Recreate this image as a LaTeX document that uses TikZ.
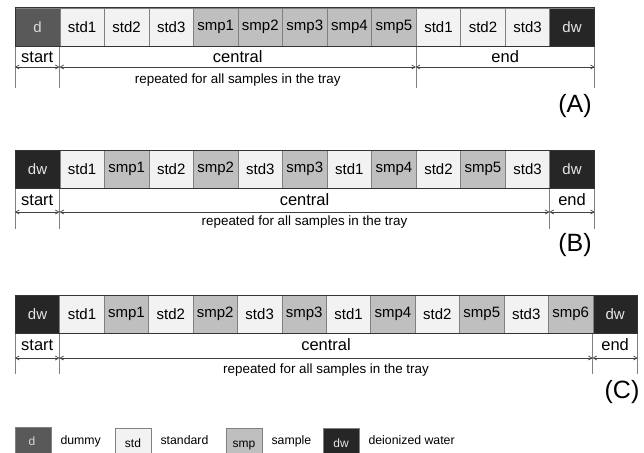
\documentclass[tikz,border=0pt]{standalone}
\usepackage{fontspec}
\setmainfont{Liberation Sans}
\usetikzlibrary{arrows.meta,calc}
\definecolor{cD}{HTML}{595959}
\definecolor{cStd}{HTML}{F2F2F2}
\definecolor{cSmp}{HTML}{BFBFBF}
\definecolor{cDw}{HTML}{262626}
\definecolor{cLine}{HTML}{808080}
\begin{document}
\begin{tikzpicture}[x=1pt,y=-1pt,
  cell/.style={draw=cLine, line width=0.6pt, minimum height=38pt, inner sep=0pt, anchor=north west, font=\fontsize{15}{15}\selectfont},
  cdummy/.style={cell, fill=cD, text=white!85!black},
  cstd/.style={cell, fill=cStd, text=black},
  csmp/.style={cell, fill=cSmp, text=black},
  cdw/.style={cell, fill=cDw, text=white!90!black},
  sep/.style={draw=cLine, line width=0.6pt},
  dim/.style={draw=black!75, line width=0.7pt, {Straight Barb[length=3.5pt,width=4pt]}-{Straight Barb[length=3.5pt,width=4pt]}},
  seglab/.style={font=\fontsize{16.5}{16.5}\selectfont, anchor=base},
  replab/.style={font=\fontsize{13.4}{13.4}\selectfont, anchor=base},
  panlab/.style={font=\fontsize{25}{25}\selectfont, anchor=base},
  legbox/.style={draw=cLine, line width=0.6pt, minimum width=36pt, minimum height=30pt, inner sep=0pt, anchor=north west, font=\fontsize{12}{12}\selectfont},
  legtxt/.style={font=\fontsize{12.3}{12.3}\selectfont, anchor=base west}
]
\useasboundingbox (0,0) rectangle (644,452);

% ---------- Row A ----------
\foreach \t/\l [count=\i from 0] in {cdummy/d,cstd/std1,cstd/std2,cstd/std3,csmp/smp1,csmp/smp2,csmp/smp3,csmp/smp4,csmp/smp5,cstd/std1,cstd/std2,cstd/std3,cdw/dw}
  \node[\t, minimum width=44.54pt] (a\i) at ({15+\i*44.54},8) {\l};
\draw[black!80, line width=1pt] (a0.north west) rectangle (a12.south east);
\coordinate (aL0) at (15,88);
\coordinate (aL1) at (a1.south west |- aL0);
\coordinate (aL2) at (a9.south west |- aL0);
\coordinate (aL3) at (a12.south east |- aL0);
\draw[sep] (a0.south west) -- (aL0);
\draw[sep] (a1.south west) -- (aL1);
\draw[sep] (a9.south west) -- (aL2);
\draw[sep] (a12.south east) -- (aL3);
\coordinate (aA0) at (15,67);
\coordinate (aA1) at (a1.south west |- aA0);
\coordinate (aA2) at (a9.south west |- aA0);
\coordinate (aA3) at (a12.south east |- aA0);
\draw[dim] (aA0) -- (aA1);
\draw[dim] (aA1) -- (aA2);
\draw[dim] (aA2) -- (aA3);
\node[seglab] (aS) at ($(aA0)!0.5!(aA1)+(0,-4)$) {start};
\node[seglab] (aC) at ($(aA1)!0.5!(aA2)+(0,-4)$) {central};
\node[seglab] (aE) at ($(aA2)!0.5!(aA3)+(0,-4)$) {end};
\node[replab] (aR) at ($(aA1)!0.5!(aA2)+(0,16)$) {repeated for all samples in the tray};
\node[panlab] (aP) at (575,112) {(A)};

% ---------- Row B ----------
\foreach \t/\l [count=\i from 0] in {cdw/dw,cstd/std1,csmp/smp1,cstd/std2,csmp/smp2,cstd/std3,csmp/smp3,cstd/std1,csmp/smp4,cstd/std2,csmp/smp5,cstd/std3,cdw/dw}
  \node[\t, minimum width=44.54pt] (b\i) at ({15+\i*44.54},150) {\l};
\draw[black!80, line width=1pt] (b0.north west) rectangle (b12.south east);
\coordinate (bL0) at (15,229);
\coordinate (bL1) at (b1.south west |- bL0);
\coordinate (bL2) at (b12.south west |- bL0);
\coordinate (bL3) at (b12.south east |- bL0);
\draw[sep] (b0.south west) -- (bL0);
\draw[sep] (b1.south west) -- (bL1);
\draw[sep] (b12.south west) -- (bL2);
\draw[sep] (b12.south east) -- (bL3);
\coordinate (bA0) at (15,212);
\coordinate (bA1) at (b1.south west |- bA0);
\coordinate (bA2) at (b12.south west |- bA0);
\coordinate (bA3) at (b12.south east |- bA0);
\draw[dim] (bA0) -- (bA1);
\draw[dim] (bA1) -- (bA2);
\draw[dim] (bA2) -- (bA3);
\node[seglab] (bS) at ($(bA0)!0.5!(bA1)+(0,-7)$) {start};
\node[seglab] (bC) at ($(bA1)!0.5!(bA2)+(0,-7)$) {central};
\node[seglab] (bE) at ($(bA2)!0.5!(bA3)+(0,-7)$) {end};
\node[replab] (bR) at ($(bA1)!0.5!(bA2)+(0,13)$) {repeated for all samples in the tray};
\node[panlab] (bP) at (575,251) {(B)};

% ---------- Row C ----------
\foreach \t/\l [count=\i from 0] in {cdw/dw,cstd/std1,csmp/smp1,cstd/std2,csmp/smp2,cstd/std3,csmp/smp3,cstd/std1,csmp/smp4,cstd/std2,csmp/smp5,cstd/std3,csmp/smp6,cdw/dw}
  \node[\t, minimum width=44.43pt] (c\i) at ({15+\i*44.43},295) {\l};
\draw[black!80, line width=1pt] (c0.north west) rectangle (c13.south east);
\coordinate (cL0) at (15,374);
\coordinate (cL1) at (c1.south west |- cL0);
\coordinate (cL2) at (c13.south west |- cL0);
\coordinate (cL3) at (c13.south east |- cL0);
\draw[sep] (c0.south west) -- (cL0);
\draw[sep] (c1.south west) -- (cL1);
\draw[sep] (c13.south west) -- (cL2);
\draw[sep] (c13.south east) -- (cL3);
\coordinate (cA0) at (15,358);
\coordinate (cA1) at (c1.south west |- cA0);
\coordinate (cA2) at (c13.south west |- cA0);
\coordinate (cA3) at (c13.south east |- cA0);
\draw[dim] (cA0) -- (cA1);
\draw[dim] (cA1) -- (cA2);
\draw[dim] (cA2) -- (cA3);
\node[seglab] (cS) at ($(cA0)!0.5!(cA1)+(0,-8)$) {start};
\node[seglab] (cC) at ($(cA1)!0.5!(cA2)+(0,-8)$) {central};
\node[seglab] (cE) at ($(cA2)!0.5!(cA3)+(0,-8)$) {end};
\node[replab] (cR) at ($(cA1)!0.5!(cA2)+(0,15)$) {repeated for all samples in the tray};
\node[panlab] (cP) at (622,398) {(C)};

% ---------- Legend ----------
\node[legbox, fill=cD, text=white!85!black, text depth=0pt, text height=9pt, anchor=north west] (lD) at (15,427) {};
\node[font=\fontsize{12}{12}\selectfont, text=white!85!black, anchor=base] (lDl) at (32,445) {d};
\node[legtxt] (lDt) at (57,444) {dummy};
\node[legbox, fill=cStd] (lS) at (115,428) {};
\node[font=\fontsize{12}{12}\selectfont, anchor=base] (lSl) at (133,447) {std};
\node[legtxt] (lSt) at (157,444) {standard};
\node[legbox, fill=cSmp] (lP) at (226,428) {};
\node[font=\fontsize{12}{12}\selectfont, anchor=base] (lPl) at (244,447) {smp};
\node[legtxt] (lPt) at (268,444) {sample};
\node[legbox, fill=cDw] (lW) at (323,428) {};
\node[font=\fontsize{12}{12}\selectfont, text=white!90!black, anchor=base] (lWl) at (341,447) {dw};
\node[legtxt] (lWt) at (365,444) {deionized water};
\end{tikzpicture}
\end{document}
